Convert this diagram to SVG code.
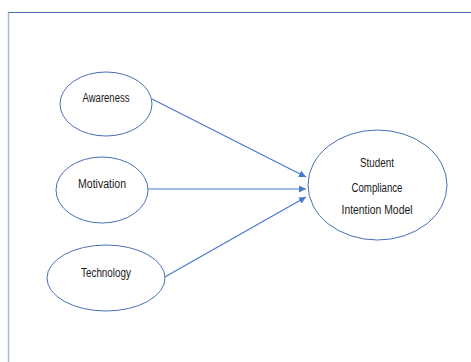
<svg xmlns="http://www.w3.org/2000/svg" width="471" height="362" viewBox="0 0 471 362">
<style>
.node ellipse{fill:#fff;stroke:#4a6fb5;stroke-width:1}
.node text{font-family:"Liberation Sans",Arial,sans-serif;font-size:12.5px;fill:#1a1a1a;text-anchor:middle}
.edge{stroke:#4a78cc;stroke-width:1.2;fill:none;marker-end:url(#ah)}
</style>
<defs>
<marker id="ah" viewBox="0 0 10 10" refX="10" refY="5" markerWidth="7" markerHeight="7" markerUnits="userSpaceOnUse" orient="auto"><path d="M0,0L10,5L0,10z" fill="#4a78cc"/></marker>
</defs>
<rect width="471" height="362" fill="#fff"/>
<path d="M8.5,362V12.5H471" fill="none" stroke="#4a72b8" stroke-width="1"/>
<path d="M8.5,13V362" stroke="#a7b6d4" stroke-width="1.5"/>
<g id="edges">
<line class="edge" x1="152" y1="99" x2="306" y2="177"/>
<line class="edge" x1="148" y1="189" x2="306" y2="189"/>
<line class="edge" x1="163" y1="278" x2="306" y2="197"/>
</g>
<g id="awareness" class="node"><ellipse cx="106" cy="104" rx="46" ry="32"/><text x="106" y="102" textLength="47" lengthAdjust="spacingAndGlyphs">Awareness</text></g>
<g id="motivation" class="node"><ellipse cx="102" cy="190" rx="46" ry="33"/><text x="102" y="188" textLength="48" lengthAdjust="spacingAndGlyphs">Motivation</text></g>
<g id="technology" class="node"><ellipse cx="106" cy="278" rx="59" ry="33"/><text x="106" y="277" textLength="50" lengthAdjust="spacingAndGlyphs">Technology</text></g>
<g id="model" class="node"><ellipse cx="377.5" cy="185" rx="69.5" ry="55"/><text x="377" y="167" textLength="34" lengthAdjust="spacingAndGlyphs">Student</text><text x="377" y="192" textLength="51" lengthAdjust="spacingAndGlyphs">Compliance</text><text x="377" y="214" textLength="71" lengthAdjust="spacingAndGlyphs">Intention Model</text></g>
</svg>
